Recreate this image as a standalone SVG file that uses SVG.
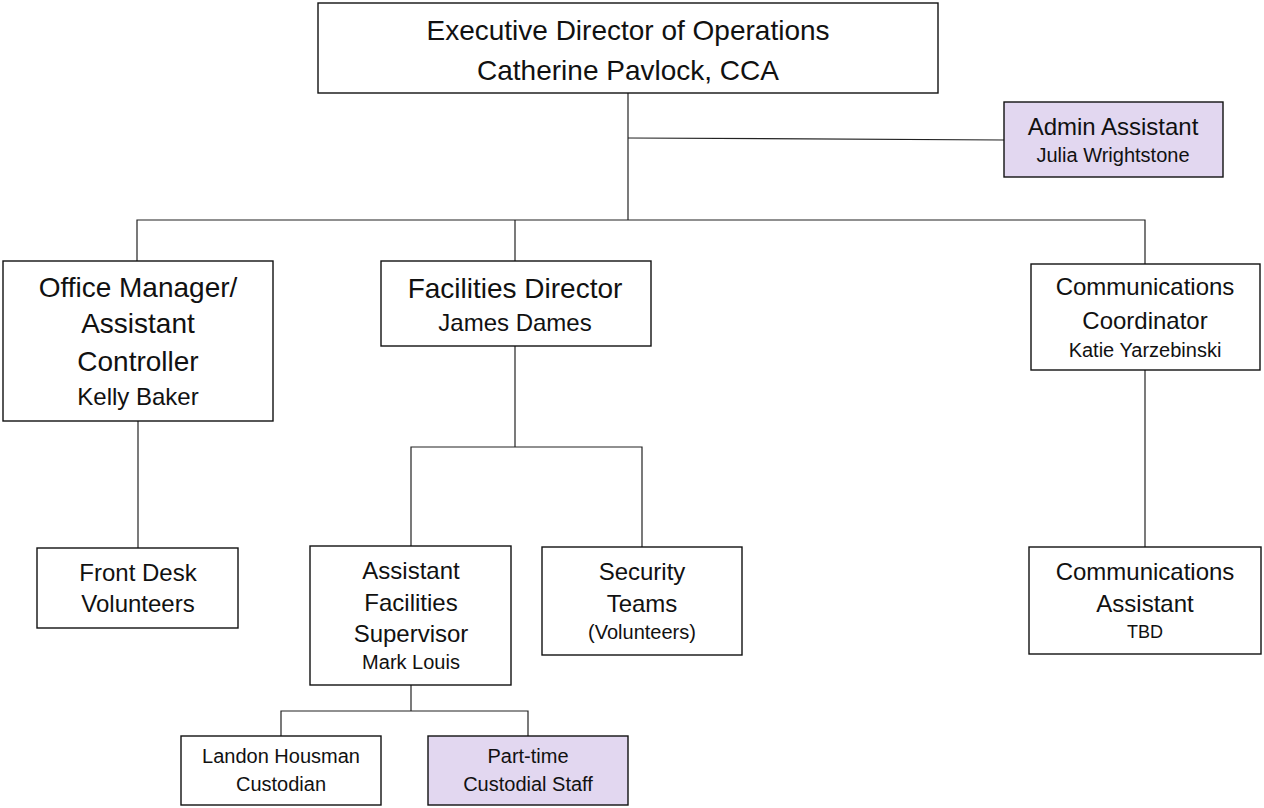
<svg xmlns="http://www.w3.org/2000/svg" width="1264" height="808" viewBox="0 0 1264 808">
<style>
.box{fill:#fff;stroke:#111;stroke-width:1.4}
.hl{fill:#e2d7f0;stroke:#111;stroke-width:1.4}
.t{font-family:"Liberation Sans",Arial,sans-serif;fill:#111;text-anchor:middle}
.s28{font-size:28px}.s24{font-size:24px}.s20{font-size:20px}.s18{font-size:18px}
.c{fill:none;stroke:#222;stroke-width:1.2}
</style>
<rect width="1264" height="808" fill="#fff"/>
<g id="connectors">
<path class="c" d="M628 93V220"/>
<path class="c" d="M628 138L1004 140"/>
<path class="c" d="M137 261V220H1145V264"/>
<path class="c" d="M515 220V261"/>
<path class="c" d="M138 421V548"/>
<path class="c" d="M515 346V447"/>
<path class="c" d="M411 546V447H642V547"/>
<path class="c" d="M1145 370V547"/>
<path class="c" d="M411 685V711"/>
<path class="c" d="M281 736V711H528V736"/>
</g>
<g id="exec">
<rect class="box" x="318" y="3" width="620" height="90"/>
<text class="t s28" x="628" y="40">Executive Director of Operations</text>
<text class="t s28" x="628" y="80">Catherine Pavlock, CCA</text>
</g>
<g id="admin">
<rect class="hl" x="1004" y="102" width="219" height="75"/>
<text class="t s24" x="1113" y="135">Admin Assistant</text>
<text class="t s20" x="1113" y="162">Julia Wrightstone</text>
</g>
<g id="office">
<rect class="box" x="3" y="261" width="270" height="160"/>
<text class="t s28" x="138" y="297">Office Manager/</text>
<text class="t s28" x="138" y="333">Assistant</text>
<text class="t s28" x="138" y="371">Controller</text>
<text class="t s24" x="138" y="405">Kelly Baker</text>
</g>
<g id="facilities">
<rect class="box" x="381" y="261" width="270" height="85"/>
<text class="t s28" x="515" y="298">Facilities Director</text>
<text class="t s24" x="515" y="331">James Dames</text>
</g>
<g id="commcoord">
<rect class="box" x="1031" y="264" width="229" height="106"/>
<text class="t s24" x="1145" y="295">Communications</text>
<text class="t s24" x="1145" y="329">Coordinator</text>
<text class="t s20" x="1145" y="357">Katie Yarzebinski</text>
</g>
<g id="frontdesk">
<rect class="box" x="37" y="548" width="201" height="80"/>
<text class="t s24" x="138" y="581">Front Desk</text>
<text class="t s24" x="138" y="612">Volunteers</text>
</g>
<g id="asstfac">
<rect class="box" x="310" y="546" width="201" height="139"/>
<text class="t s24" x="411" y="579">Assistant</text>
<text class="t s24" x="411" y="611">Facilities</text>
<text class="t s24" x="411" y="642">Supervisor</text>
<text class="t s20" x="411" y="669">Mark Louis</text>
</g>
<g id="security">
<rect class="box" x="542" y="547" width="200" height="108"/>
<text class="t s24" x="642" y="580">Security</text>
<text class="t s24" x="642" y="612">Teams</text>
<text class="t s20" x="642" y="639">(Volunteers)</text>
</g>
<g id="commasst">
<rect class="box" x="1029" y="547" width="232" height="107"/>
<text class="t s24" x="1145" y="580">Communications</text>
<text class="t s24" x="1145" y="612">Assistant</text>
<text class="t s18" x="1145" y="638">TBD</text>
</g>
<g id="landon">
<rect class="box" x="181" y="736" width="200" height="69"/>
<text class="t s20" x="281" y="763">Landon Housman</text>
<text class="t s20" x="281" y="791">Custodian</text>
</g>
<g id="parttime">
<rect class="hl" x="428" y="736" width="200" height="69"/>
<text class="t s20" x="528" y="763">Part-time</text>
<text class="t s20" x="528" y="791">Custodial Staff</text>
</g>
</svg>
